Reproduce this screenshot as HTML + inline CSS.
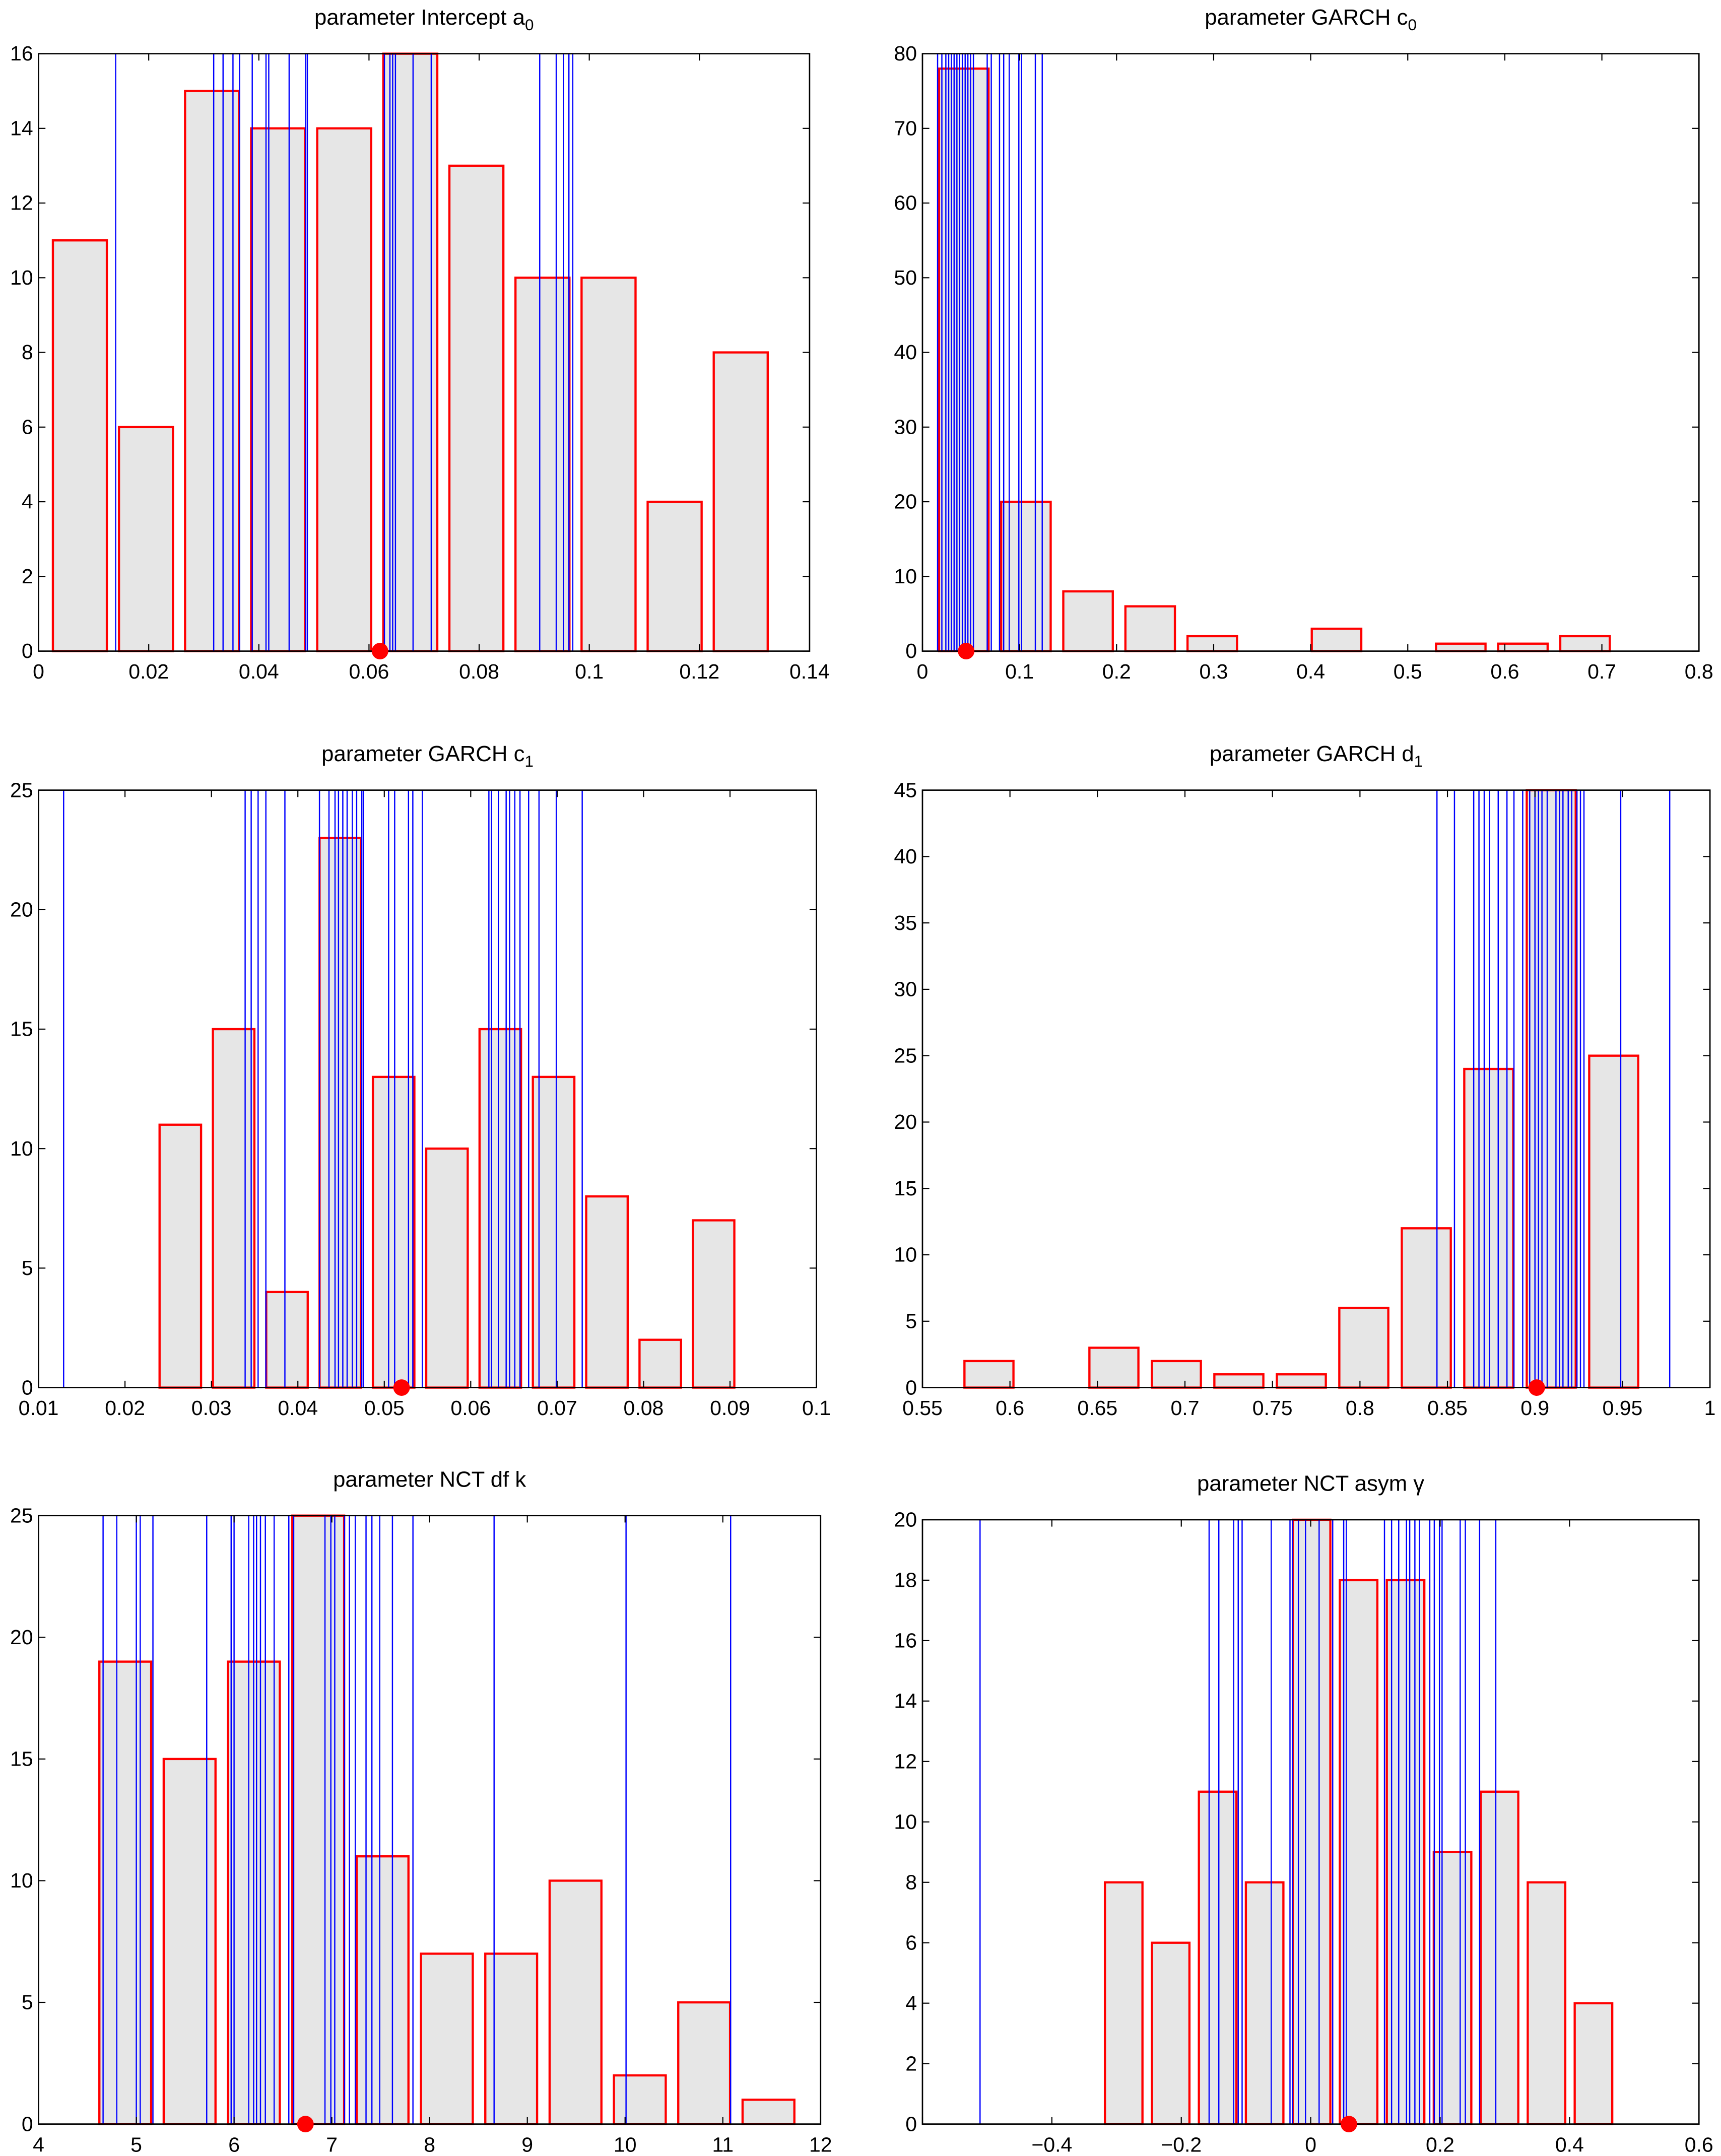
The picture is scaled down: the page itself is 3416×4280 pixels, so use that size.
<!DOCTYPE html>
<html><head><meta charset="utf-8"><style>
html,body{margin:0;padding:0;background:#fff;}
svg{display:block;}
text{font-family:"Liberation Sans",sans-serif;fill:#000;}
</style></head><body>
<svg id="fig" width="3416" height="4280" viewBox="0 0 1250 1566.2" xmlns="http://www.w3.org/2000/svg"></svg>
<script>
// ---- data arrays ----
const p1Counts=[11,6,15,14,14,16,13,10,10,4,8];
const p1Start=0.0075, p1Step=0.012, p1Width=0.0098;
const p1Draws=[0.014,0.0318,0.0335,0.0353,0.0365,0.0388,0.0413,0.0418,0.0455,0.0485,0.0488,0.0628,0.0638,0.0643,0.0648,0.068,0.0713,0.091,0.094,0.0953,0.0963,0.097];
const p1True=0.062;
const p1XTicks=[0,0.02,0.04,0.06,0.08,0.1,0.12,0.14];
const p1YTicks=[0,2,4,6,8,10,12,14,16];

const p2Counts=[78,20,8,6,2,0,3,0,1,1,2];
const p2Start=0.0426, p2Step=0.064, p2Width=0.051;
const p2Draws=[0.0156,0.02,0.0241,0.027,0.0298,0.0326,0.0355,0.0383,0.0411,0.044,0.0468,0.0496,0.0525,0.0667,0.0709,0.0794,0.0837,0.0894,0.0993,0.1021,0.1163,0.1234];
const p2True=0.045;
const p2XTicks=[0,0.1,0.2,0.3,0.4,0.5,0.6,0.7,0.8];
const p2YTicks=[0,10,20,30,40,50,60,70,80];

const p3Counts=[11,15,4,23,13,10,15,13,8,2,7];
const p3Start=0.0264, p3Step=0.00617, p3Width=0.0048;
const p3Draws=[0.0129,0.0339,0.0346,0.0354,0.0363,0.0385,0.0425,0.0436,0.0443,0.0447,0.0452,0.0457,0.0463,0.0468,0.0474,0.0476,0.0505,0.0512,0.0528,0.0533,0.0544,0.0621,0.0624,0.0632,0.0641,0.0645,0.0651,0.0657,0.0667,0.0679,0.0699,0.0729];
const p3True=0.052;
const p3XTicks=[0.01,0.02,0.03,0.04,0.05,0.06,0.07,0.08,0.09,0.1];
const p3YTicks=[0,5,10,15,20,25];

const p4Counts=[2,0,3,2,1,1,6,12,24,45,25];
const p4Start=0.588, p4Step=0.0357, p4Width=0.028;
const p4Draws=[0.844,0.854,0.865,0.868,0.871,0.874,0.879,0.884,0.888,0.893,0.897,0.9,0.902,0.904,0.907,0.912,0.914,0.916,0.919,0.921,0.924,0.926,0.928,0.949,0.977];
const p4True=0.901;
const p4XTicks=[0.55,0.6,0.65,0.7,0.75,0.8,0.85,0.9,0.95,1];
const p4YTicks=[0,5,10,15,20,25,30,35,40,45];

const p5Counts=[19,15,19,25,11,7,7,10,2,5,1];
const p5Start=4.887, p5Step=0.658, p5Width=0.53;
const p5Draws=[4.66,4.8,5.0,5.04,5.17,5.72,5.97,6.0,6.15,6.2,6.23,6.27,6.32,6.41,6.56,6.61,6.93,6.99,7.03,7.13,7.18,7.24,7.35,7.41,7.49,7.62,7.83,8.66,10.01,11.08];
const p5True=6.73;
const p5XTicks=[4,5,6,7,8,9,10,11,12];
const p5YTicks=[0,5,10,15,20,25];

const p6Counts=[8,6,11,8,20,18,18,9,11,8,4];
const p6Start=-0.289, p6Step=0.0726, p6Width=0.058;
const p6Draws=[-0.511,-0.157,-0.142,-0.119,-0.112,-0.106,-0.061,-0.032,-0.028,-0.019,-0.008,0.013,0.034,0.051,0.055,0.114,0.125,0.136,0.148,0.153,0.161,0.168,0.184,0.191,0.199,0.203,0.231,0.239,0.261,0.286];
const p6True=0.059;
const p6XTicks=[-0.4,-0.2,0,0.2,0.4,0.6];
const p6YTicks=[0,2,4,6,8,10,12,14,16,18,20];

const NS="http://www.w3.org/2000/svg";
const svg=document.getElementById('fig');
function mk(tag,attrs,parent){const e=document.createElementNS(NS,tag);for(const k in attrs)e.setAttribute(k,attrs[k]);(parent||svg).appendChild(e);return e;}
function fmt(v){let s=(Math.round(v*1000)/1000).toString();s=s.replace('-','\u2212');return s;}

function panel(cfg){
  const g=mk('g',{});
  
  
  const {x0,x1,y0,y1,xmin,xmax,ymin,ymax}=cfg;
  const sx=v=>x0+(v-xmin)/(xmax-xmin)*(x1-x0);
  const sy=v=>y1-(v-ymin)/(ymax-ymin)*(y1-y0);
  mk('rect',{x:x0,y:y0,width:x1-x0,height:y1-y0,fill:'#fff'},g);
  cfg.counts.forEach((c,i)=>{
    const cx=cfg.start+cfg.step*i;
    const r=mk('rect',{x:sx(cx-cfg.width/2),y:sy(c),width:sx(cx+cfg.width/2)-sx(cx-cfg.width/2),height:sy(0)-sy(c),fill:'#e6e6e6',stroke:'#ff0000','stroke-width':1.6},g);
    
    
  });
  cfg.draws.forEach(d=>{
    const l=mk('line',{x1:sx(d),x2:sx(d),y1:y0,y2:y1,stroke:'#0000ff','stroke-width':0.9},g);
    
    
  });
  mk('rect',{x:x0,y:y0,width:x1-x0,height:y1-y0,fill:'none',stroke:'#000','stroke-width':1},g);
  const tl=5;
  cfg.xticks.forEach(t=>{
    const X=sx(t);
    mk('line',{x1:X,x2:X,y1:y1,y2:y1-tl,stroke:'#000','stroke-width':0.8},g);
    mk('line',{x1:X,x2:X,y1:y0,y2:y0+tl,stroke:'#000','stroke-width':0.8},g);
    if(cfg.skipX && cfg.skipX.includes(t))return;
    const tx=mk('text',{x:X,y:y1+20,'text-anchor':'middle','font-size':15},g);
    tx.textContent=fmt(t);
    
    
  });
  cfg.yticks.forEach(t=>{
    const Y=sy(t);
    mk('line',{x1:x0,x2:x0+tl,y1:Y,y2:Y,stroke:'#000','stroke-width':0.8},g);
    mk('line',{x1:x1,x2:x1-tl,y1:Y,y2:Y,stroke:'#000','stroke-width':0.8},g);
    const tx=mk('text',{x:x0-4,y:Y+5,'text-anchor':'end','font-size':15},g);
    tx.textContent=fmt(t);
    
    
  });
  const dot=mk('circle',{cx:sx(cfg.truth),cy:y1,r:6,fill:'#ff0000'},g);
  
  
  const ti=mk('text',{x:(x0+x1)/2,y:y0-21,'text-anchor':'middle','font-size':16},g);
  
  
  ti.textContent=cfg.title;
  if(cfg.sub){const ts=mk('tspan',{'font-size':11.5,dy:4},ti);ts.textContent=cfg.sub;}
}

panel({name:'panel-intercept-a0',title:'parameter Intercept a',sub:'0',x0:28,x1:588,y0:39,y1:473,xmin:0,xmax:0.14,ymin:0,ymax:16,counts:p1Counts,start:p1Start,step:p1Step,width:p1Width,draws:p1Draws,truth:p1True,xticks:p1XTicks,yticks:p1YTicks});
panel({name:'panel-garch-c0',title:'parameter GARCH c',sub:'0',x0:670,x1:1234,y0:39,y1:473,xmin:0,xmax:0.8,ymin:0,ymax:80,counts:p2Counts,start:p2Start,step:p2Step,width:p2Width,draws:p2Draws,truth:p2True,xticks:p2XTicks,yticks:p2YTicks});
panel({name:'panel-garch-c1',title:'parameter GARCH c',sub:'1',x0:28,x1:593,y0:574,y1:1008,xmin:0.01,xmax:0.1,ymin:0,ymax:25,counts:p3Counts,start:p3Start,step:p3Step,width:p3Width,draws:p3Draws,truth:p3True,xticks:p3XTicks,yticks:p3YTicks});
panel({name:'panel-garch-d1',title:'parameter GARCH d',sub:'1',x0:670,x1:1242,y0:574,y1:1008,xmin:0.55,xmax:1,ymin:0,ymax:45,counts:p4Counts,start:p4Start,step:p4Step,width:p4Width,draws:p4Draws,truth:p4True,xticks:p4XTicks,yticks:p4YTicks});
panel({name:'panel-nct-df-k',title:'parameter NCT df k',x0:28,x1:596,y0:1101,y1:1543,xmin:4,xmax:12,ymin:0,ymax:25,counts:p5Counts,start:p5Start,step:p5Step,width:p5Width,draws:p5Draws,truth:p5True,xticks:p5XTicks,yticks:p5YTicks});
panel({name:'panel-nct-asym-gamma',title:'parameter NCT asym \u03b3',x0:670,x1:1234,y0:1104,y1:1543,xmin:-0.6,xmax:0.6,ymin:0,ymax:20,counts:p6Counts,start:p6Start,step:p6Step,width:p6Width,draws:p6Draws,truth:p6True,xticks:[-0.6].concat(p6XTicks),skipX:[-0.6],yticks:p6YTicks});
</script>
</body></html>
